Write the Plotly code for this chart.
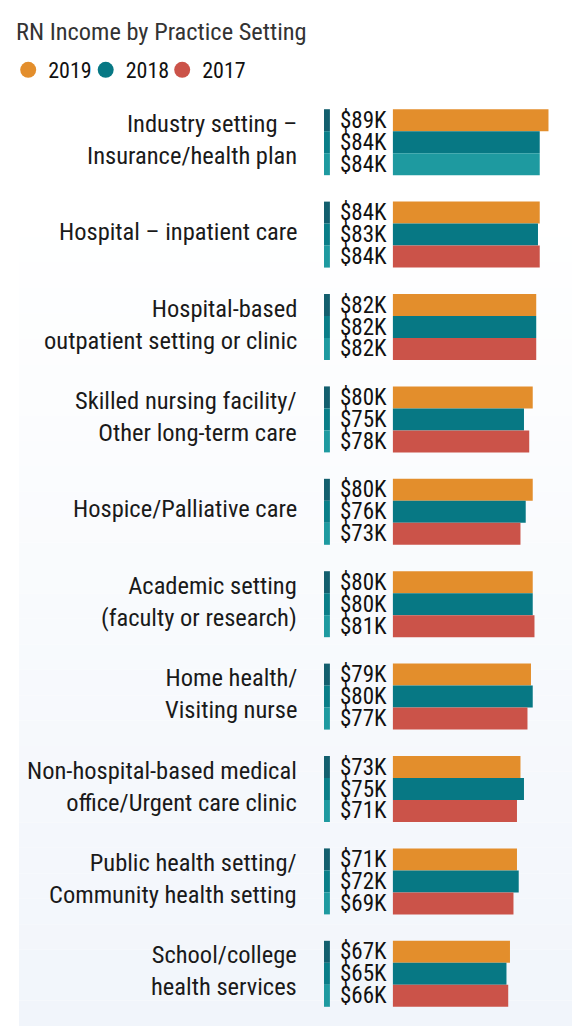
import plotly.graph_objects as go

categories = [
    "Industry setting –<br>Insurance/health plan",
    "Hospital – inpatient care",
    "Hospital-based<br>outpatient setting or clinic",
    "Skilled nursing facility/<br>Other long-term care",
    "Hospice/Palliative care",
    "Academic setting<br>(faculty or research)",
    "Home health/<br>Visiting nurse",
    "Non-hospital-based medical<br>office/Urgent care clinic",
    "Public health setting/<br>Community health setting",
    "School/college<br>health services",
]
years = ["2019", "2018", "2017"]
v2019 = [89, 84, 82, 80, 80, 80, 79, 73, 71, 67]
v2018 = [84, 83, 82, 75, 76, 80, 80, 75, 72, 65]
v2017 = [84, 84, 82, 78, 73, 81, 77, 71, 69, 66]

C2019 = "#e38e2c"
C2018 = "#077884"
C2017 = "#cb5349"
C_LIGHT = "#1e9aa0"
colors_2017 = [C_LIGHT] + [C2017] * 9
bracket_colors = ["#135f6e", "#0a7e88", "#1e9aa0"]

FONT = "Roboto Condensed, Liberation Sans Narrow, DejaVu Sans Condensed, sans-serif"
# page has an 8px body margin, so the figure is 8px smaller than the window
W, H = 572, 1018
MT, MB = 88, 6
GAP = 0.286
BW = (1 - GAP) / 3
plot_h = H - MT - MB

fig = go.Figure()
series = [(v2019, C2019), (v2018, C2018), (v2017, colors_2017)]
for yr, (vals, col) in zip(years, series):
    fig.add_trace(go.Bar(
        y=categories, x=vals, orientation="h", name=yr,
        marker=dict(color=col, line=dict(width=0)),
        showlegend=False, hovertemplate="%{x}K<extra>" + yr + "</extra>",
    ))

# legend entries (circles), one small legend per year
legend_ids = ["legend", "legend2", "legend3"]
for yr, col, lg in zip(years, [C2019, C2018, C2017], legend_ids):
    fig.add_trace(go.Scatter(
        x=[None], y=[None], mode="markers", name=yr,
        marker=dict(symbol="circle", size=18, color=col),
        showlegend=True, legend=lg,
    ))

annotations = []
shapes = []

# background gradient bands
n_bands = 40
top_c = (255, 255, 255)
bot_c = (241, 245, 251)
for b in range(n_bands):
    px0 = H * b / n_bands
    px1 = H * (b + 1) / n_bands
    t = max(0.0, (px0 - 190) / (H - 190))
    c = tuple(round(top_c[i] + (bot_c[i] - top_c[i]) * t) for i in range(3))
    shapes.append(dict(
        type="rect", xref="paper", yref="paper", layer="below",
        x0=0, x1=1,
        y0=(H - MB - px1) / plot_h, y1=(H - MB - px0) / plot_h,
        fillcolor="rgb(%d,%d,%d)" % c, line=dict(width=0),
    ))

for i, cat in enumerate(categories):
    annotations.append(dict(
        x=285 / W, xref="paper", y=i, yref="y", text=cat,
        xanchor="right", yanchor="middle", align="right", showarrow=False,
        yshift=3,
        font=dict(family=FONT, size=24.5, color="#1a1a1a"),
    ))
    for k, vals in enumerate([v2019, v2018, v2017]):
        yc = i + (k - 1) * BW
        annotations.append(dict(
            x=0, xref="x", y=yc, yref="y", text="$%dK" % vals[i],
            xanchor="right", yanchor="middle", xshift=-4, showarrow=False,
            font=dict(family=FONT, size=23, color="#111111"),
        ))
        shapes.append(dict(
            type="rect", xref="paper", yref="y",
            x0=311 / W, x1=317 / W, y0=yc - BW / 2, y1=yc + BW / 2,
            fillcolor=bracket_colors[k], line=dict(width=0),
        ))

legend_style = dict(orientation="h", xanchor="left", y=1 + 26 / plot_h, yanchor="middle",
                    font=dict(family=FONT, size=22, color="#111111"),
                    itemsizing="trace", bgcolor="rgba(0,0,0,0)")
legend_x = [-11, 68, 146]

fig.update_layout(
    width=W, height=H,
    margin=dict(l=0, r=0, t=MT, b=MB),
    paper_bgcolor="white", plot_bgcolor="rgba(0,0,0,0)",
    barmode="group", bargap=GAP, bargroupgap=0,
    title=dict(text="RN Income by Practice Setting", x=8 / W, xref="container",
               xanchor="left", y=1 - 23 / H, yref="container", yanchor="middle",
               font=dict(family=FONT, size=24.4, color="#333333")),
    legend=dict(x=legend_x[0] / W, **legend_style),
    legend2=dict(x=legend_x[1] / W, **legend_style),
    legend3=dict(x=legend_x[2] / W, **legend_style),
    xaxis=dict(domain=[381 / W, 1], range=[0, 107], visible=False, fixedrange=True),
    yaxis=dict(categoryorder="array", categoryarray=categories, autorange="reversed",
               visible=False, fixedrange=True),
    annotations=annotations, shapes=shapes,
    hoverlabel=dict(font=dict(family=FONT)),
)

fig.write_html("out.html")
